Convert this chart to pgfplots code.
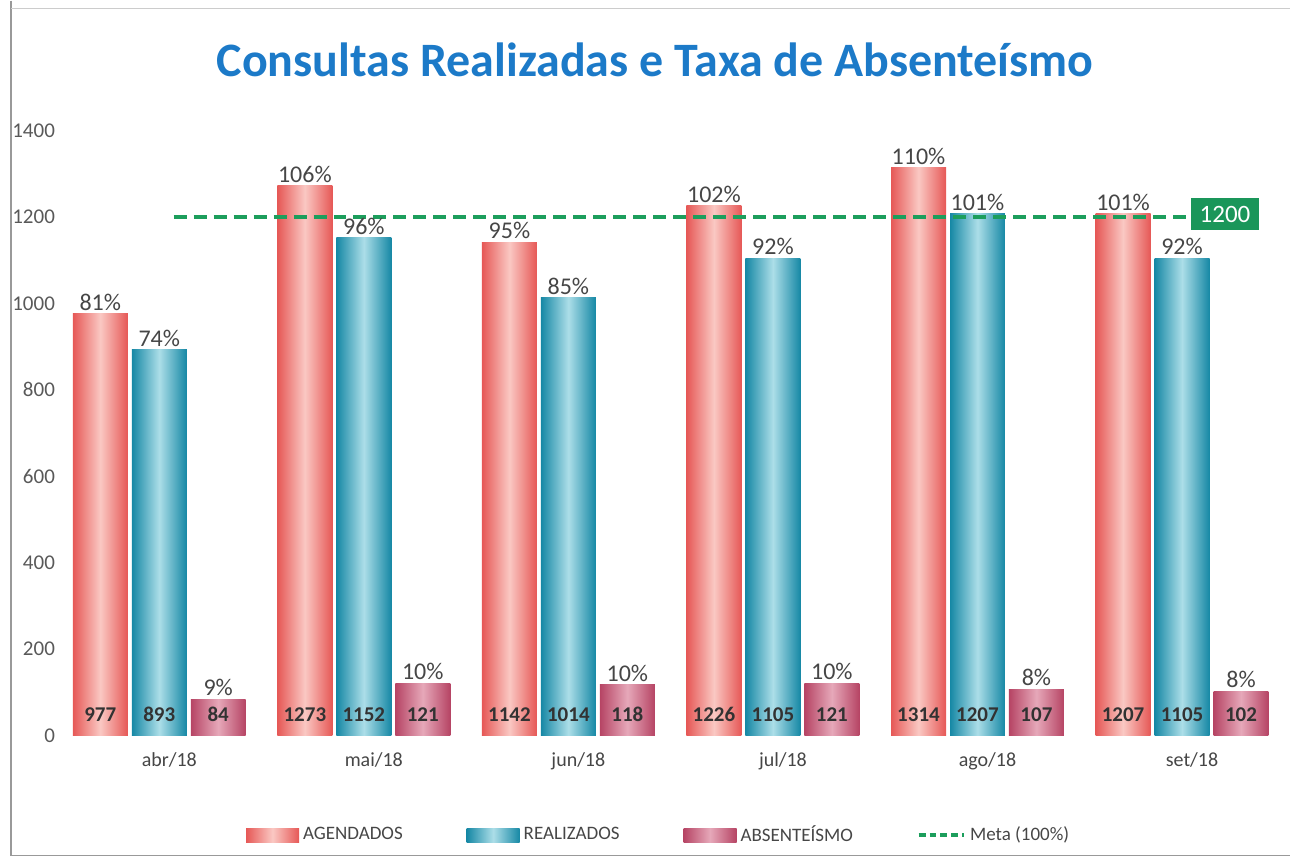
\documentclass[border=0pt]{standalone}
\usepackage{fontspec}
\setmainfont{Carlito}
\usepackage{pgfplots}
\usepackage{pgfplotstable}
\pgfplotsset{compat=1.18}
\definecolor{agdark}{RGB}{230,88,86}
\definecolor{aglight}{RGB}{250,200,195}
\definecolor{redark}{RGB}{22,136,165}
\definecolor{relight}{RGB}{172,222,232}
\definecolor{abdark}{RGB}{182,68,100}
\definecolor{ablight}{RGB}{230,168,185}
\definecolor{metagreen}{RGB}{28,158,92}
\definecolor{boxgreen}{RGB}{26,150,90}
\definecolor{titleblue}{RGB}{28,122,200}
\definecolor{txt}{RGB}{70,70,70}
\definecolor{valtxt}{RGB}{50,50,50}
\definecolor{ticktxt}{RGB}{89,89,89}

\pgfplotstableread{
x ag re ab
0 977 893 84
1 1273 1152 121
2 1142 1014 118
3 1226 1105 121
4 1314 1207 107
5 1207 1105 102
}\datatab

\pgfplotsset{
  pctlabel/.style={point meta=explicit,
    nodes near coords={\pgfmathprintnumber{\pgfplotspointmeta}\%},
    nodes near coords style={font=\fontsize{12}{14}\selectfont, text=txt, yshift=-2pt, xshift=#1}},
  agbar/.style={ybar, bar shift=-29.5pt, draw=none, left color=agdark, right color=agdark, middle color=aglight, pctlabel=-29.5pt,
    legend image code/.code={\path[left color=agdark, right color=agdark, middle color=aglight] (0pt,-3.5pt) rectangle (26.5pt,3.5pt);}},
  rebar/.style={ybar, bar shift=0pt, draw=none, left color=redark, right color=redark, middle color=relight, pctlabel=0pt,
    legend image code/.code={\path[left color=redark, right color=redark, middle color=relight] (0pt,-3.5pt) rectangle (26.5pt,3.5pt);}},
  abbar/.style={ybar, bar shift=29.5pt, draw=none, left color=abdark, right color=abdark, middle color=ablight, pctlabel=29.5pt,
    legend image code/.code={\path[left color=abdark, right color=abdark, middle color=ablight] (0pt,-3.5pt) rectangle (26.5pt,3.5pt);}},
  vallabel/.style={ybar, bar shift=#1, draw=none, fill=none, forget plot,
    nodes near coords={\pgfmathprintnumber{\pgfplotspointmeta}},
    nodes near coords style={anchor=center, yshift=10.5pt, xshift=#1, font=\bfseries\fontsize{10.5}{12}\selectfont, text=valtxt}},
}

\begin{document}
\begin{tikzpicture}
\path (0pt,0pt) rectangle (645.5pt,428.5pt);
\draw[black!40, line width=0.7pt] (5.5pt,428.5pt) -- (5.5pt,1pt) -- (645.5pt,1pt);
\draw[black!20, line width=0.5pt] (5.5pt,424.5pt) -- (645.5pt,424.5pt);
\node[font=\bfseries\fontsize{24}{28}\selectfont, text=titleblue] at (327.75pt,399pt) {Consultas Realizadas e Taxa de Absenteísmo};
\begin{axis}[
  at={(6pt,61pt)}, anchor=south west,
  scale only axis, width=636.5pt, height=302.5pt,
  xmin=-0.72, xmax=5.5, ymin=0, ymax=1400,
  clip=false,
  axis line style={draw=none}, tick style={draw=none},
  xtick={0,...,5},
  xticklabels={abr/18,mai/18,jun/18,jul/18,ago/18,set/18},
  ytick={0,200,...,1400},
  /pgf/number format/1000 sep={},
  /pgf/number format/assume math mode=true,
  yticklabel style={anchor=east, xshift=25pt, font=\fontsize{10.5}{12}\selectfont, text=ticktxt},
  xticklabel style={font=\fontsize{10}{12}\selectfont, text=txt, xshift=5pt, yshift=-5pt},
  bar width=27.5pt,
  legend columns=4,
  legend style={at={(0.509,-0.165)}, anchor=center, draw=none, fill=none,
    font=\fontsize{9.5}{11}\selectfont, text=txt,
    /tikz/every even column/.append style={column sep=30pt}},
]
% first bars carry the legend entries
\addplot[agbar] coordinates {(0,977) [81]};
\addlegendentry{AGENDADOS}
\addplot[rebar] coordinates {(0,893) [74]};
\addlegendentry{REALIZADOS}
\addplot[abbar] coordinates {(0,84) [9]};
\addlegendentry{ABSENTEÍSMO}
% remaining bars
\addplot[agbar, forget plot] coordinates {(1,1273) [106]};
\addplot[rebar, forget plot] coordinates {(1,1152) [96]};
\addplot[abbar, forget plot] coordinates {(1,121) [10]};
\addplot[agbar, forget plot] coordinates {(2,1142) [95]};
\addplot[rebar, forget plot] coordinates {(2,1014) [85]};
\addplot[abbar, forget plot] coordinates {(2,118) [10]};
\addplot[agbar, forget plot] coordinates {(3,1226) [102]};
\addplot[rebar, forget plot] coordinates {(3,1105) [92]};
\addplot[abbar, forget plot] coordinates {(3,121) [10]};
\addplot[agbar, forget plot] coordinates {(4,1314) [110]};
\addplot[rebar, forget plot] coordinates {(4,1207) [101]};
\addplot[abbar, forget plot] coordinates {(4,107) [8]};
\addplot[agbar, forget plot] coordinates {(5,1207) [101]};
\addplot[rebar, forget plot] coordinates {(5,1105) [92]};
\addplot[abbar, forget plot] coordinates {(5,102) [8]};
% meta line
\addplot[color=metagreen, line width=2pt, dash pattern=on 6.5pt off 3.5pt, mark=none,
  legend image code/.code={\draw[metagreen, line width=1.6pt, dash pattern=on 3.5pt off 2pt] (0pt,0pt) -- (23pt,0pt);}]
  coordinates {(0.07,1200) (5.05,1200)};
\addlegendentry{Meta (100\%)}
% value labels inside bars
\addplot[vallabel=-29.5pt, point meta=\thisrow{ag}] table[x=x, y expr=0] {\datatab};
\addplot[vallabel=0pt, point meta=\thisrow{re}] table[x=x, y expr=0] {\datatab};
\addplot[vallabel=29.5pt, point meta=\thisrow{ab}] table[x=x, y expr=0] {\datatab};
% meta label
\addplot[only marks, mark=none, forget plot,
  nodes near coords, point meta=explicit symbolic,
  nodes near coords style={anchor=center, yshift=1.5pt, fill=boxgreen, text=white, font=\fontsize{12.5}{14}\selectfont, minimum height=16pt, inner xsep=4.5pt}]
  coordinates {(5.21,1200) [1200]};
\end{axis}
\end{tikzpicture}
\end{document}
